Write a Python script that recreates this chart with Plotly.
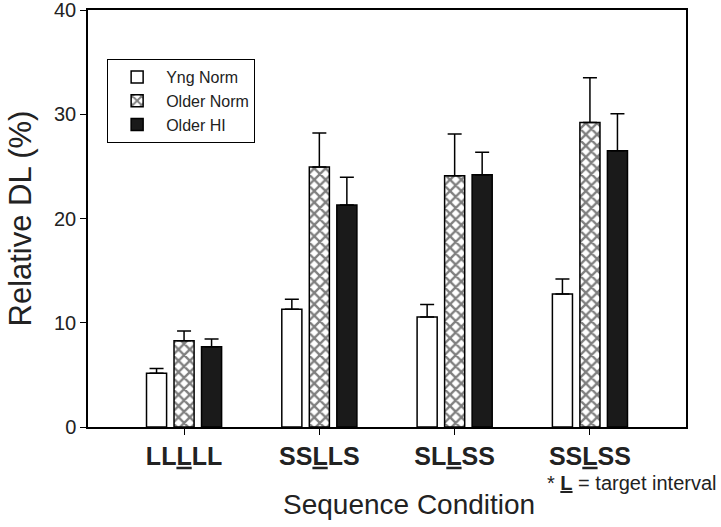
import plotly.graph_objects as go

categories = ["LLLLL", "SSLLS", "SLLSS", "SSLSS"]
tick_labels = ["<b>LL<u>L</u>LL</b>", "<b>SS<u>L</u>LS</b>", "<b>SL<u>L</u>SS</b>", "<b>SS<u>L</u>SS</b>"]
series_names = ["Yng Norm", "Older Norm", "Older HI"]
yng_norm = [5.15, 11.3, 10.55, 12.75]
yng_norm_err = [0.45, 0.95, 1.2, 1.45]
older_norm = [8.27, 24.95, 24.1, 29.2]
older_norm_err = [0.93, 3.25, 4.0, 4.3]
older_hi = [7.7, 21.3, 24.2, 26.5]
older_hi_err = [0.74, 2.65, 2.15, 3.55]

font_family = "Arial, Liberation Sans, sans-serif"
xs = list(range(len(categories)))

W, H = 721, 527
ML, MR, MT, MB = 88, 35, 10, 100

fig = go.Figure()

common_err = dict(type="data", symmetric=False, color="black", thickness=1.5, width=7)

fig.add_trace(go.Bar(
    x=xs, y=yng_norm, name=series_names[0],
    marker=dict(color="white", line=dict(color="black", width=1.5)),
    error_y=dict(array=yng_norm_err, arrayminus=[0] * 4, **common_err),
))
fig.add_trace(go.Bar(
    x=xs, y=older_norm, name=series_names[1],
    marker=dict(color="white", line=dict(color="black", width=1.5),
                pattern=dict(shape="x", fgcolor="black", bgcolor="white", size=8, solidity=0.5)),
    error_y=dict(array=older_norm_err, arrayminus=[0] * 4, **common_err),
))
fig.add_trace(go.Bar(
    x=xs, y=older_hi, name=series_names[2],
    marker=dict(color="#1a1a1a", line=dict(color="black", width=1.5)),
    error_y=dict(array=older_hi_err, arrayminus=[0] * 4, **common_err),
))

fig.update_layout(
    width=W, height=H,
    margin=dict(l=ML, r=MR, t=MT, b=MB, autoexpand=False),
    paper_bgcolor="white", plot_bgcolor="white",
    barmode="group", bargap=0.39, bargroupgap=0.27,
    font=dict(family=font_family, color="#222"),
    legend=dict(
        x=0.032, y=0.8825, xanchor="left", yanchor="top",
        bordercolor="black", borderwidth=1, bgcolor="white",
        font=dict(size=16, family=font_family, color="#222"),
        tracegroupgap=0, itemwidth=48,
    ),
    xaxis=dict(
        range=[-0.71, 3.71], tickmode="array", tickvals=xs, ticktext=tick_labels,
        showline=True, linecolor="black", linewidth=1.5, mirror=True,
        ticks="outside", ticklen=6, tickcolor="black",
        tickfont=dict(size=25, family=font_family, color="#222"),
        showgrid=False, zeroline=False, automargin=False,
    ),
    yaxis=dict(
        range=[0, 40], tickvals=[0, 10, 20, 30, 40],
        showline=True, linecolor="black", linewidth=1.5, mirror=True,
        ticks="outside", ticklen=6, tickcolor="black",
        tickfont=dict(size=20, family=font_family, color="#222"),
        showgrid=False, zeroline=False, automargin=False,
        ticklabeloverflow="allow",
    ),
    annotations=[
        dict(
            text="Relative DL (%)", x=(20 - ML) / (W - ML - MR), y=0.5, xref="paper", yref="paper",
            showarrow=False, textangle=-90, xanchor="center", yanchor="middle",
            font=dict(size=31, family=font_family, color="#222"),
        ),
        dict(
            text="Sequence Condition", x=(409 - ML) / (W - ML - MR), y=-0.185, xref="paper", yref="paper",
            showarrow=False, xanchor="center", yanchor="middle",
            font=dict(size=28, family=font_family, color="#222"),
        ),
        dict(
            text="* <b><u>L</u></b> = target interval", x=(719 - ML) / (W - ML - MR), y=-0.135,
            xref="paper", yref="paper",
            xanchor="right", yanchor="middle", showarrow=False,
            font=dict(size=20, family=font_family, color="#222"),
        ),
    ],
)

fig.write_html("out.html", config={"displayModeBar": False},
               post_script="document.body.style.margin='0';")
